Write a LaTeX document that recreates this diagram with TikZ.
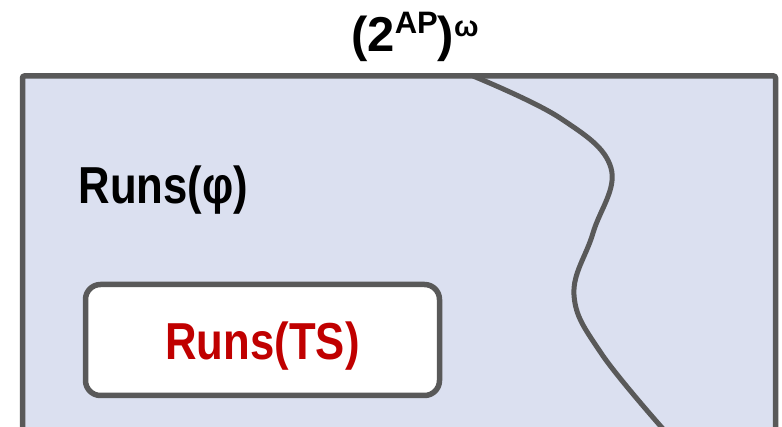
\documentclass[tikz,border=0pt]{standalone}
\usepackage{fontspec}
\setmainfont{Liberation Sans}
\newfontfamily\narrowfont[FakeStretch=0.84]{Liberation Sans}
\definecolor{framegray}{RGB}{89,89,89}
\definecolor{setfill}{RGB}{219,224,240}
\definecolor{tsred}{RGB}{192,0,0}
\tikzset{
  setline/.style={draw=framegray, line width=5.5pt},
  bigtext/.style={font=\narrowfont\bfseries\fontsize{52}{52}\selectfont, inner sep=0pt},
}
\begin{document}
\begin{tikzpicture}[x=1pt,y=-1pt]
\useasboundingbox (0,0) rectangle (782,427);
\begin{scope}
\clip (0,0) rectangle (782,427);
\draw[setline, fill=setfill, rounded corners=2pt] (22.5,76) rectangle (775.5,430);
\draw[draw=framegray, line width=5pt] plot[smooth, tension=0.65] coordinates {(473,76) (560,118) (611,168) (593,233) (574,295) (601,353) (664,430)};
\end{scope}
\node[setline, fill=white, rounded corners=15pt, minimum width=354pt, minimum height=111pt, inner sep=0pt] (ts) at (262.5,340) {};
\node[bigtext, text=tsred, anchor=base] (tslabel) at (262.5,360) {Runs(TS)};
\node[bigtext, anchor=base] (philabel) at (163.5,204) {Runs(φ)};
\node[inner sep=0pt, anchor=base, font=\bfseries] (title) at (415,52) {\fontsize{49}{49}\selectfont(2\raisebox{18pt}{\fontsize{31}{31}\selectfont AP})\raisebox{15pt}{\fontsize{29}{29}\selectfont ω}};
\end{tikzpicture}
\end{document}
